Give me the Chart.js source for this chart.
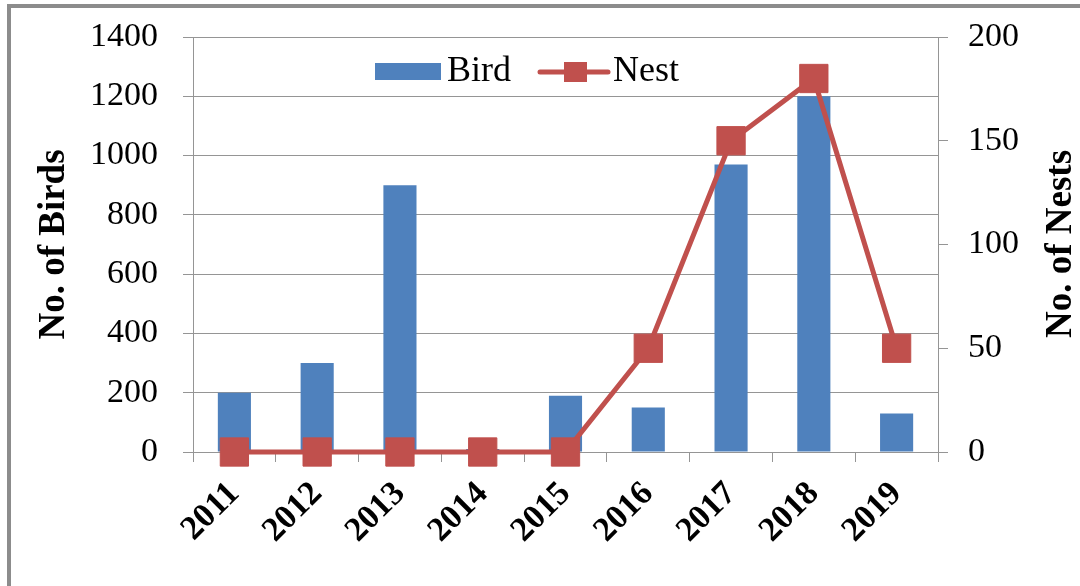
<!DOCTYPE html>
<html>
<head>
<meta charset="utf-8">
<script src="https://cdn.jsdelivr.net/npm/chart.js@4.4.0/dist/chart.umd.min.js"></script>
<style>
  html, body { margin: 0; padding: 0; background: #fff; overflow: hidden; }
  #wrap { position: relative; width: 1080px; height: 586px; }
  #frame {
    position: absolute; left: 7px; top: 4px; width: 1200px; height: 700px;
    border-top: 4px solid #8c8c8c; border-left: 4px solid #8c8c8c;
    pointer-events: none; z-index: 2;
  }
  canvas { position: absolute; left: 0; top: 0; }
</style>
</head>
<body>
<div id="wrap">
  <div id="frame"></div>
  <canvas id="birdChart" width="1080" height="586"></canvas>
</div>
<script>
// Chart data
const years = ['2011', '2012', '2013', '2014', '2015', '2016', '2017', '2018', '2019'];
const birdCounts = [200, 300, 900, 10, 190, 150, 970, 1200, 130];
const nestCounts = [0, 0, 0, 0, 0, 50, 150, 180, 50];
const birdTicks = [0, 200, 400, 600, 800, 1000, 1200, 1400];
const nestTicks = [0, 50, 100, 150, 200];

const BLUE = '#4F81BD';
const RED = '#C0504D';
const GRID = '#959595';
const SERIF = '"Liberation Serif", "Times New Roman", serif';

// Draws the legend (bar box + line with marker) and the right axis title
const extrasPlugin = {
  id: 'extras',
  afterDraw(chart) {
    const ctx = chart.ctx;
    const bird = chart.data.datasets[0];
    const nest = chart.data.datasets[1];
    ctx.save();
    ctx.font = '36px ' + SERIF;
    ctx.textBaseline = 'alphabetic';
    ctx.textAlign = 'left';

    // Bird entry
    ctx.fillStyle = bird.backgroundColor;
    ctx.fillRect(375, 63, 66, 17);
    ctx.fillStyle = '#000';
    ctx.fillText(bird.label, 447, 81);

    // Nest entry
    ctx.strokeStyle = nest.borderColor;
    ctx.lineWidth = 5;
    ctx.lineCap = 'round';
    ctx.beginPath();
    ctx.moveTo(540, 72);
    ctx.lineTo(608, 72);
    ctx.stroke();
    ctx.fillStyle = nest.pointBackgroundColor;
    ctx.fillRect(564, 62, 23, 20);
    ctx.fillStyle = '#000';
    ctx.fillText(nest.label, 613, 81);

    // Right axis title, reading bottom to top
    ctx.font = 'bold 37px ' + SERIF;
    ctx.textAlign = 'center';
    ctx.translate(1071, 244);
    ctx.rotate(-Math.PI / 2);
    ctx.fillText('No. of Nests', 0, 0);
    ctx.restore();
  }
};

new Chart(document.getElementById('birdChart'), {
  type: 'bar',
  data: {
    labels: years,
    datasets: [{
      type: 'bar',
      label: 'Bird',
      data: birdCounts,
      backgroundColor: BLUE,
      borderWidth: 0,
      barPercentage: 0.4,
      categoryPercentage: 1.0,
      yAxisID: 'y',
      order: 1
    }, {
      type: 'line',
      label: 'Nest',
      data: nestCounts,
      borderColor: RED,
      borderWidth: 5,
      pointStyle: 'rect',
      pointRadius: 20,
      pointHoverRadius: 20,
      pointBackgroundColor: RED,
      pointBorderColor: RED,
      pointBorderWidth: 1,
      tension: 0,
      clip: false,
      yAxisID: 'y1',
      order: 0
    }]
  },
  options: {
    responsive: false,
    animation: false,
    layout: { padding: { top: 37, left: 0, right: 0, bottom: 0 } },
    plugins: {
      legend: { display: false },
      tooltip: { enabled: false }
    },
    scales: {
      x: {
        grid: { display: true, drawOnChartArea: false, drawTicks: true, tickLength: 10, color: GRID, offset: true },
        border: { display: true, color: GRID },
        ticks: {
          color: '#000',
          font: { family: SERIF, size: 34, weight: 'bold', lineHeight: 0.2 },
          minRotation: 45,
          maxRotation: 45,
          autoSkip: false,
          padding: 24
        },
        afterFit(scale) { scale.height = 134; }
      },
      y: {
        position: 'left',
        min: 0,
        max: 1400,
        afterBuildTicks(scale) { scale.ticks = birdTicks.map(v => ({ value: v })); },
        grid: { color: GRID, lineWidth: 1, tickLength: 10 },
        border: { display: true, color: GRID },
        ticks: {
          color: '#000',
          font: { family: SERIF, size: 34 },
          padding: 25,
          callback: value => String(value)
        },
        title: {
          display: true,
          text: 'No. of Birds',
          color: '#000',
          font: { family: SERIF, size: 37, weight: 'bold' },
          padding: { top: 32, bottom: 0 }
        },
        afterFit(scale) {
          scale.width = 193;
          scale.paddingTop = 0;
          scale.paddingBottom = 0;
        }
      },
      y1: {
        position: 'right',
        min: 0,
        max: 200,
        afterBuildTicks(scale) { scale.ticks = nestTicks.map(v => ({ value: v })); },
        grid: { drawOnChartArea: false, color: GRID, tickLength: 10 },
        border: { display: true, color: GRID },
        ticks: {
          color: '#000',
          font: { family: SERIF, size: 34 },
          padding: 20,
          callback: value => String(value)
        },
        afterFit(scale) {
          scale.width = 142;
          scale.paddingTop = 0;
          scale.paddingBottom = 0;
        }
      }
    }
  },
  plugins: [extrasPlugin]
});
</script>
</body>
</html>
